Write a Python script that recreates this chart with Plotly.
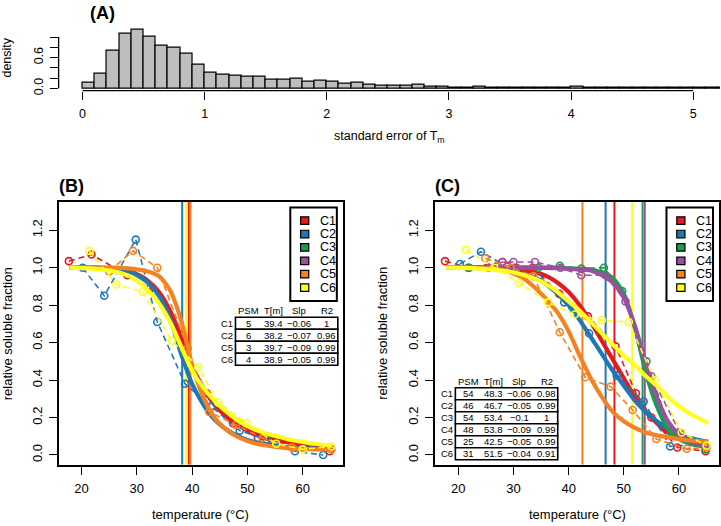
import numpy as np
import plotly.graph_objects as go

W, H = 721, 526
FONT = "Liberation Sans, Arial, sans-serif"

# ---------------- data ----------------
# Panel A: histogram of standard error of Tm (bin width 0.1)
hist_density = [0.10, 0.28, 0.73, 1.06, 1.15, 1.00, 0.83, 0.79, 0.68, 0.45,
                0.30, 0.27, 0.24, 0.23, 0.23, 0.16, 0.17, 0.18, 0.12, 0.14,
                0.12, 0.09, 0.10, 0.07, 0.05, 0.05, 0.05, 0.06, 0.03, 0.03,
                0.02, 0.02, 0.03, 0.02, 0.02, 0.01, 0.02, 0.01, 0.02, 0.01,
                0.03, 0.02, 0.02, 0.02, 0.01, 0.01, 0.01, 0.01, 0.01, 0.01,
                0.02, 0.01, 0.01]
hist_bin = 0.1
hist_left = np.round(np.arange(len(hist_density)) * hist_bin, 2)

conds = ["C1", "C2", "C3", "C4", "C5", "C6"]
colors = {"C1": "#E8191C", "C2": "#1F78B4", "C3": "#1B9E4B",
          "C4": "#9B4FA3", "C5": "#F58220", "C6": "#FFFF1F"}

# grid on which fitted curves were read
fit_T = [17.8, 22, 26, 29, 32, 34, 36, 38, 40, 42, 44, 46, 48, 50, 52, 54, 56, 58, 60, 62, 65.3]

# Panel B
B_conds = ["C1", "C2", "C5", "C6"]
B_T = {
    "C1": [17.7, 21.8, 28.3, 32.4, 38.8, 42.6, 47.4, 51.9, 57.0, 64.9],
    "C2": [20.2, 24.1, 29.8, 33.7, 38.7, 43.5, 48.6, 53.5, 58.6, 63.7],
    "C5": [25.0, 29.3, 33.7, 39.2, 43.1, 47.9, 52.8, 58.0, 65.2],
    "C6": [21.4, 26.3, 31.1, 36.3, 41.1, 44.7, 49.8, 55.2, 60.0, 65.2],
}
B_V = {
    "C1": [1.035, 1.07, 0.96, 0.89, 0.55, 0.33, 0.17, 0.09, 0.05, 0.02],
    "C2": [1.0, 0.85, 1.15, 0.71, 0.38, 0.26, 0.13, 0.08, 0.02, 0.0],
    "C5": [0.98, 1.09, 1.0, 0.57, 0.23, 0.16, 0.09, 0.04, 0.03],
    "C6": [1.09, 0.91, 0.87, 0.61, 0.47, 0.28, 0.17, 0.06, 0.03, 0.045],
}
B_fit = {
    "C1": [1.0, 1.0, 0.995, 0.98, 0.93, 0.87, 0.77, 0.63, 0.47, 0.36, 0.27, 0.21, 0.165, 0.13, 0.105, 0.09, 0.075, 0.065, 0.055, 0.05, 0.04],
    "C2": [1.0, 1.0, 0.995, 0.975, 0.92, 0.85, 0.73, 0.54, 0.38, 0.27, 0.19, 0.14, 0.105, 0.08, 0.065, 0.055, 0.045, 0.04, 0.037, 0.034, 0.03],
    "C5": [1.0, 1.0, 1.0, 0.995, 0.98, 0.955, 0.88, 0.72, 0.48, 0.31, 0.2, 0.14, 0.1, 0.075, 0.058, 0.048, 0.04, 0.035, 0.032, 0.03, 0.028],
    "C6": [1.0, 0.995, 0.98, 0.95, 0.88, 0.81, 0.71, 0.58, 0.45, 0.36, 0.29, 0.235, 0.19, 0.155, 0.13, 0.11, 0.095, 0.08, 0.07, 0.06, 0.05],
}
B_psm = [5, 6, 3, 4]
B_tm = [39.4, 38.2, 39.7, 38.9]
B_slp = [-0.06, -0.07, -0.09, -0.05]
B_r2 = [1, 0.96, 0.99, 0.99]

# Panel C
C_conds = ["C1", "C2", "C3", "C4", "C5", "C6"]
C_T = {
    "C1": [17.6, 21.8, 28.0, 33.5, 38.3, 43.5, 48.5, 52.2, 55.0, 59.7, 64.8],
    "C2": [20.3, 24.1, 30.5, 34.5, 39.2, 43.7, 48.7, 53.6, 58.4, 64.5],
    "C3": [22.0, 26.5, 30.5, 34.5, 38.4, 42.3, 46.4, 49.7, 54.1, 58.6, 64.8],
    "C4": [25.5, 28.0, 30.0, 33.9, 38.5, 42.3, 46.7, 50.3, 55.0, 60.2, 65.0],
    "C5": [24.9, 29.5, 33.6, 38.4, 43.0, 47.6, 51.6, 55.9, 61.4, 65.0],
    "C6": [21.4, 26.5, 31.0, 36.3, 41.1, 46.0, 50.9, 55.6, 60.5, 65.0],
}
C_V = {
    "C1": [1.035, 1.0, 1.03, 1.0, 0.86, 0.74, 0.58, 0.33, 0.2, 0.04, 0.02],
    "C2": [1.02, 1.085, 0.98, 0.95, 0.815, 0.65, 0.425, 0.285, 0.046, 0.06],
    "C3": [1.0, 1.0, 0.99, 1.0, 1.01, 0.995, 1.0, 0.875, 0.5, 0.12, 0.03],
    "C4": [1.0, 1.03, 1.03, 1.03, 1.0, 0.96, 0.96, 0.82, 0.42, 0.117, 0.045],
    "C5": [1.05, 1.0, 0.955, 0.655, 0.415, 0.365, 0.24, 0.085, 0.033, 0.04],
    "C6": [1.095, 1.0, 0.92, 0.815, 0.75, 0.72, 0.71, 0.40, 0.12, 0.05],
}
C_fit = {
    "C1": [1.0, 1.0, 1.0, 0.995, 0.985, 0.975, 0.955, 0.92, 0.87, 0.8, 0.71, 0.61, 0.51, 0.41, 0.31, 0.23, 0.17, 0.12, 0.09, 0.07, 0.05],
    "C2": [1.0, 1.0, 0.995, 0.985, 0.965, 0.945, 0.91, 0.86, 0.8, 0.72, 0.63, 0.54, 0.45, 0.37, 0.29, 0.23, 0.18, 0.14, 0.11, 0.09, 0.07],
    "C3": [1.0, 1.0, 1.0, 1.0, 1.0, 1.0, 1.0, 0.999, 0.997, 0.994, 0.99, 0.975, 0.945, 0.86, 0.68, 0.44, 0.26, 0.14, 0.085, 0.06, 0.04],
    "C4": [1.0, 1.0, 1.0, 1.0, 1.0, 1.0, 0.999, 0.997, 0.994, 0.99, 0.985, 0.96, 0.92, 0.84, 0.69, 0.49, 0.31, 0.18, 0.11, 0.07, 0.045],
    "C5": [1.0, 1.0, 0.995, 0.98, 0.94, 0.89, 0.83, 0.76, 0.66, 0.53, 0.41, 0.31, 0.23, 0.18, 0.145, 0.12, 0.105, 0.095, 0.085, 0.078, 0.07],
    "C6": [1.0, 0.998, 0.99, 0.98, 0.96, 0.94, 0.91, 0.87, 0.82, 0.77, 0.71, 0.65, 0.59, 0.53, 0.48, 0.42, 0.37, 0.31, 0.26, 0.22, 0.17],
}
C_psm = [54, 46, 54, 48, 25, 31]
C_tm = [48.3, 46.7, 53.4, 53.8, 42.5, 51.5]
C_slp = [-0.06, -0.05, -0.1, -0.09, -0.05, -0.04]
C_r2 = [0.98, 0.99, 1, 0.99, 0.99, 0.91]

x_ticks_T = [20, 30, 40, 50, 60]
y_ticks_frac = [0.0, 0.2, 0.4, 0.6, 0.8, 1.0, 1.2]
A_x_ticks = [0, 1, 2, 3, 4, 5]
A_y_labelled = [0.0, 0.6]

# ---------------- layout geometry (pixels) ----------------
def fx(px):
    return px / W

def fy(py):
    return 1 - py / H

A_box = dict(l=58.7, r=721, t=27, b=91.4)
B_box = dict(l=58.7, r=343.3, t=203.3, b=468.3)
C_box = dict(l=436, r=720, t=203.3, b=468.3)
T_RANGE = [15.85, 67.25]
F_RANGE = [-0.052, 1.352]

fig = go.Figure()

# ---------------- Panel A ----------------
fig.add_trace(go.Bar(
    x=hist_left + hist_bin / 2, y=hist_density, width=hist_bin,
    marker=dict(color="#BEBEBE", line=dict(color="black", width=1.2)),
    xaxis="x", yaxis="y", hoverinfo="skip", showlegend=False))

# ---------------- Panels B and C ----------------
def add_panel(xa, ya, cond_list, T, V, fit, tms):
    for c, tm in zip(cond_list, tms):
        fig.add_trace(go.Scatter(
            x=[tm, tm], y=F_RANGE, mode="lines",
            line=dict(color=colors[c], width=2),
            xaxis=xa, yaxis=ya, hoverinfo="skip", showlegend=False))
    for c in cond_list:
        fig.add_trace(go.Scatter(
            x=T[c], y=V[c], mode="lines+markers",
            line=dict(color=colors[c], width=1.6, dash="6px,4px"),
            marker=dict(symbol="circle-open", size=7, color=colors[c],
                        line=dict(width=1.6, color=colors[c])),
            xaxis=xa, yaxis=ya, hoverinfo="skip", showlegend=False))
        fig.add_trace(go.Scatter(
            x=fit_T, y=fit[c], mode="lines",
            line=dict(color=colors[c], width=4.2, shape="spline", smoothing=0.7),
            xaxis=xa, yaxis=ya, hoverinfo="skip", showlegend=False))

add_panel("x2", "y2", B_conds, B_T, B_V, B_fit, B_tm)
add_panel("x3", "y3", C_conds, C_T, C_V, C_fit, C_tm)

shapes = []
annots = []

def txt(x, y, s, size=12.5, angle=0, xanchor="center", bold=False):
    annots.append(dict(
        x=fx(x), y=fy(y), xref="paper", yref="paper", text=("<b>%s</b>" % s) if bold else s,
        showarrow=False, xanchor=xanchor, yanchor="middle", textangle=angle,
        font=dict(family=FONT, size=size, color="black")))

def rect(x0, y0, x1, y1, width=1.5, fill=None):
    shapes.append(dict(type="rect", xref="paper", yref="paper",
                       x0=fx(x0), x1=fx(x1), y0=fy(y0), y1=fy(y1),
                       line=dict(color="black", width=width),
                       fillcolor=fill if fill else "rgba(0,0,0,0)"))

def legend(right, top):
    x0, x1 = right - 46.6, right
    rect(x0, top, x1, top + 94.3, width=2, fill="white")
    for i, c in enumerate(conds):
        yc = top + 13.3 + i * 13.5
        rect(x0 + 10.3, yc - 3.8, x0 + 18.5, yc + 3.8, width=1.2, fill=colors[c])
        txt(x0 + 27.5, yc, c, size=12.5, xanchor="left")

def fmt(v):
    s = "%g" % v
    return s.replace("-", "\u2212")

def table(left, top, rows, psm, tm, slp, r2):
    rh = 12.1
    wid = 102.5
    cols = [13, 38, 64, 91.5]
    for j, h in enumerate(["PSM", "T[m]", "Slp", "R2"]):
        txt(left + cols[j], top - 6.5, h, size=9.5)
    for i, r in enumerate(rows):
        y0 = top + i * rh
        rect(left, y0, left + wid, y0 + rh, width=1.6, fill="white")
        yc = y0 + rh / 2
        txt(left - 8, yc, r, size=9.5)
        for j, v in enumerate([psm[i], tm[i], slp[i], r2[i]]):
            txt(left + cols[j], yc, fmt(v), size=9.5)

legend(B_box["r"] - 6, 209)
legend(C_box["r"] - 6, 209)
table(B_box["r"] - 5 - 102.5, 319.7, B_conds, B_psm, B_tm, B_slp, B_r2)
table(C_box["l"] + 20, C_box["b"] - 5 - 6 * 12.1, C_conds, C_psm, C_tm, C_slp, C_r2)

# axis lines for panel A (R style, spanning tick range only)
shapes.append(dict(type="line", xref="x", yref="y domain", x0=0, x1=5, y0=0, y1=0,
                   line=dict(color="black", width=1.3)))
shapes.append(dict(type="line", xref="x domain", yref="y", x0=0, x1=0, y0=0, y1=1.0,
                   line=dict(color="black", width=1.3)))

# titles and axis labels
txt(103, 13, "(A)", size=18, bold=True)
txt(72, 187, "(B)", size=18, bold=True)
txt(448, 187, "(C)", size=18, bold=True)
txt(7, 58, "density", size=12.5, angle=-90)
txt((A_box["l"] + A_box["r"]) / 2, 138, "standard error of T<sub>m</sub>", size=12.5)
for box, ylx in [(B_box, 7), (C_box, 383)]:
    txt((box["l"] + box["r"]) / 2, 518, "temperature (\u00b0C)", size=13)
    txt(ylx, (box["t"] + box["b"]) / 2, "relative soluble fraction", size=13, angle=-90)

tickfont = dict(family=FONT, size=13, color="black")
common_x = dict(range=T_RANGE, tickvals=x_ticks_T, ticks="outside", ticklen=8, tickwidth=1.4,
                tickcolor="black", showline=True, mirror=True, linecolor="black", linewidth=1.8,
                showgrid=False, zeroline=False, tickfont=tickfont, fixedrange=True,
                ticklabelstandoff=3)
common_y = dict(range=F_RANGE, tickvals=y_ticks_frac, ticktext=["%.1f" % v for v in y_ticks_frac],
                ticks="outside", ticklen=8, tickwidth=1.4, tickcolor="black", tickangle=-90,
                showline=True, mirror=True, linecolor="black", linewidth=1.8,
                showgrid=False, zeroline=False, tickfont=tickfont, fixedrange=True,
                ticklabelstandoff=2)

fig.update_layout(
    width=W, height=H, autosize=False,
    margin=dict(l=0, r=0, t=0, b=0),
    paper_bgcolor="white", plot_bgcolor="white",
    showlegend=False, bargap=0,
    xaxis=dict(domain=[fx(A_box["l"]), 1], anchor="y", range=[-0.196, 5.219],
               tickvals=A_x_ticks, ticks="outside", ticklen=8, tickwidth=1.3,
               tickcolor="black", showline=False, showgrid=False, zeroline=False,
               tickfont=dict(family=FONT, size=12.5, color="black"), fixedrange=True,
               ticklabelstandoff=3),
    yaxis=dict(domain=[fy(A_box["b"]), fy(A_box["t"])], anchor="x", range=[-0.046, 1.199],
               tickvals=A_y_labelled, ticktext=["%.1f" % v for v in A_y_labelled],
               ticks="outside", ticklen=8, tickwidth=1.3,
               tickcolor="black", tickangle=-90, showline=False, showgrid=False, zeroline=False,
               minor=dict(tick0=0, dtick=0.2, ticks="outside", ticklen=8, tickwidth=1.3,
                          tickcolor="black", showgrid=False),
               tickfont=dict(family=FONT, size=12.5, color="black"), fixedrange=True,
               ticklabelstandoff=2),
    xaxis2=dict(domain=[fx(B_box["l"]), fx(B_box["r"])], anchor="y2", **common_x),
    yaxis2=dict(domain=[fy(B_box["b"]), fy(B_box["t"])], anchor="x2", **common_y),
    xaxis3=dict(domain=[fx(C_box["l"]), fx(C_box["r"])], anchor="y3", **common_x),
    yaxis3=dict(domain=[fy(C_box["b"]), fy(C_box["t"])], anchor="x3", **common_y),
    shapes=shapes, annotations=annots,
)

fig.write_html("out.html", config={"displayModeBar": False},
               post_script="document.body.style.margin='0px';")
